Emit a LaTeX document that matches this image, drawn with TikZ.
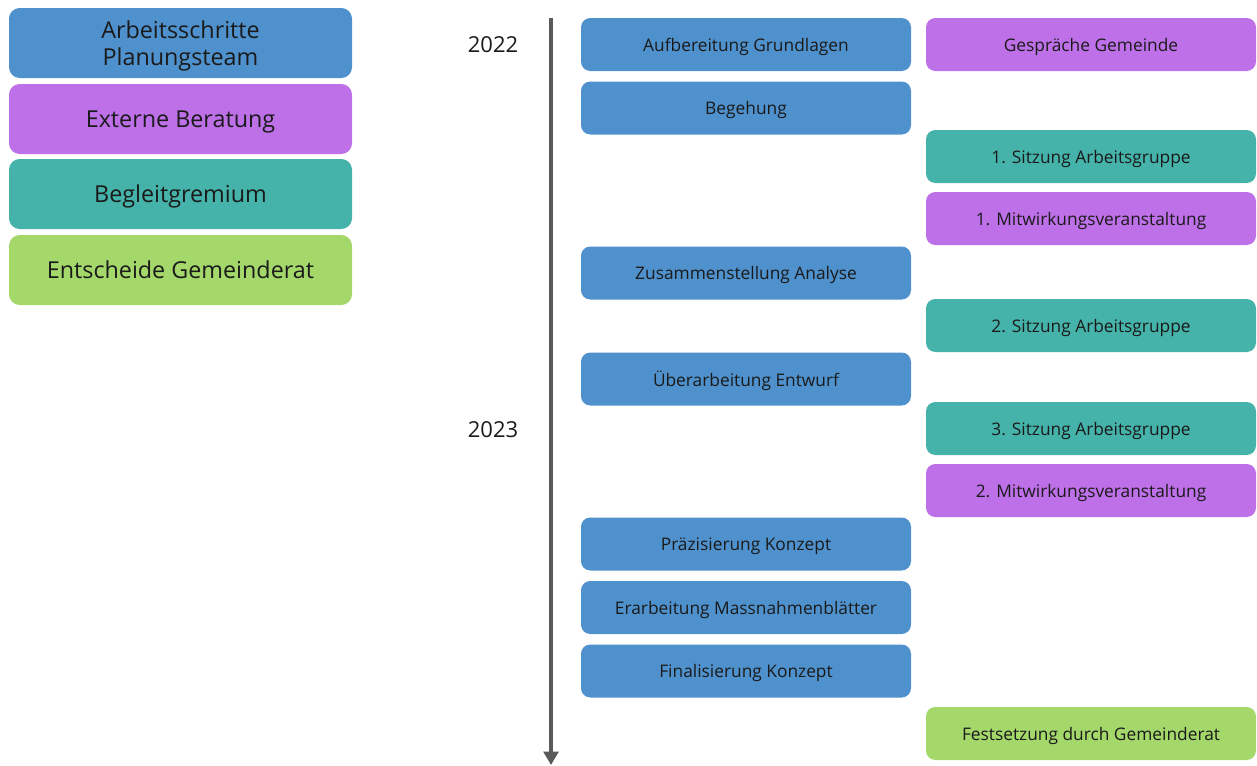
\documentclass[tikz,border=0pt]{standalone}
\usepackage{fontspec}
\setmainfont{Open Sans}
\usetikzlibrary{arrows.meta}
\definecolor{teamblue}{HTML}{4F91CD}
\definecolor{extpurple}{HTML}{BE70E8}
\definecolor{gremteal}{HTML}{45B3A9}
\definecolor{ratgreen}{HTML}{A4D86B}
\definecolor{axisgray}{HTML}{5A5A5A}
\definecolor{inkdark}{HTML}{1A1A1A}
\tikzstyle{legend} = [rounded corners=8, minimum width=257.25pt, minimum height=52.5pt, inner sep=0pt, align=center, text=inkdark, text depth=0pt, font=\fontsize{17.5}{20}\selectfont]
\tikzstyle{task} = [rounded corners=7, minimum width=247.5pt, minimum height=39.75pt, inner sep=0pt, align=center, text=inkdark, text depth=0pt, font=\fontsize{13}{15}\selectfont]
\tikzstyle{year} = [inner sep=0pt, text=inkdark, font=\fontsize{16.5}{19.5}\selectfont]
\tikzstyle{timeline} = [draw=axisgray, line width=3.5pt, -{Triangle[length=10pt, width=11pt]}]

\begin{document}
\begin{tikzpicture}[x=0.75pt, y=-0.75pt]
  \useasboundingbox (0,0) rectangle (1257,765);

  % Legend on the left
  \foreach \pos/\name/\col/\txt in {{(180.5,43)/lteam/teamblue/Arbeitsschritte\\Planungsteam},
      {(180.5,119)/lext/extpurple/Externe Beratung}, {(180.5,194)/lgrem/gremteal/Begleitgremium},
      {(180.5,270)/lrat/ratgreen/Entscheide Gemeinderat}} {
    \node[legend, fill=\col] (\name) at \pos {\txt};
  }

  % Years
  \node[year] (y22) at (493,45) {2022};
  \node[year] (y23) at (493,430) {2023};

  % The time axis
  \coordinate (tstart) at (551,18);
  \coordinate (tend) at (551,765);
  \path[timeline] (tstart) -- (tend);

  % Work steps of the planning team
  \foreach \y/\name/\txt in {44.5/grund/Aufbereitung Grundlagen, 108/beg/Begehung,
      273/analyse/Zusammenstellung Analyse, 379/entwurf/Überarbeitung Entwurf,
      544/praez/Präzisierung Konzept, 607.5/mass/Erarbeitung Massnahmenblätter,
      671/final/Finalisierung Konzept} {
    \node[task, fill=teamblue] (\name) at (746,\y) {\txt};
  }

  % Consulting, committee and council
  \foreach \y/\name/\col/\txt in {44.5/gespr/extpurple/Gespräche Gemeinde,
      156.5/sitz1/gremteal/1. Sitzung Arbeitsgruppe, 218.5/mitw1/extpurple/1. Mitwirkungsveranstaltung,
      325.5/sitz2/gremteal/2. Sitzung Arbeitsgruppe, 428.5/sitz3/gremteal/3. Sitzung Arbeitsgruppe,
      490.5/mitw2/extpurple/2. Mitwirkungsveranstaltung, 733.5/fest/ratgreen/Festsetzung durch Gemeinderat} {
    \node[task, fill=\col] (\name) at (1091,\y) {\txt};
  }

\end{tikzpicture}
\end{document}
